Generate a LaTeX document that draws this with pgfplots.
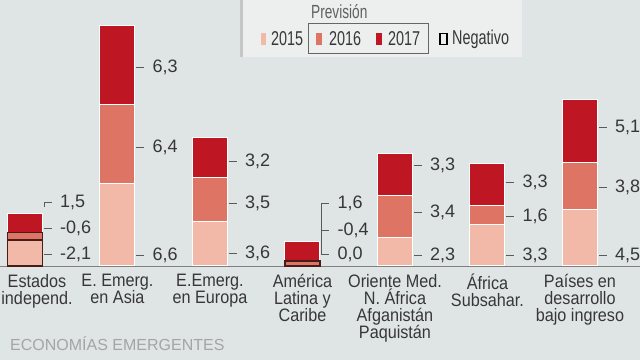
\documentclass[border=0pt]{standalone}
\usepackage{pgfplots}
\pgfplotsset{compat=1.18}
\usepackage{pgfplotstable}
\usepackage{fontspec}
\setmainfont{Liberation Sans}
\newfontfamily\catfont{Liberation Sans}[FakeStretch=0.9]
\newfontfamily\condfont{Liberation Sans}[FakeStretch=0.72]
\definecolor{bg}{RGB}{223,228,229}
\definecolor{panel}{RGB}{237,238,238}
\definecolor{cA}{RGB}{242,184,168}
\definecolor{cB}{RGB}{222,117,100}
\definecolor{cC}{RGB}{190,22,34}
\definecolor{negc}{RGB}{70,30,25}
\definecolor{txt}{RGB}{55,55,55}
\definecolor{tickc}{RGB}{90,90,90}
\definecolor{foot}{RGB}{165,165,165}

\pgfplotstableread{
x y15 y16 y17
0 2.1 0.6 1.5
1 6.6 6.4 6.3
2 3.6 3.5 3.2
3 0.0 0.4 1.6
4 2.3 3.4 3.3
5 3.3 1.6 3.3
6 4.5 3.8 5.1
}\datatable

\newcommand{\vl}[3]{%
  \draw[tickc, line width=0.6bp] ([xshift=19bp]axis cs:#1,#2) -- ([xshift=27bp]axis cs:#1,#2);
  \node[anchor=west, inner sep=0pt, text=txt, font=\fontsize{18bp}{18bp}\selectfont] at ([xshift=35bp]axis cs:#1,#2) {#3};
}

\begin{document}
\begin{tikzpicture}
\fill[bg] (0,0) rectangle (640bp,360bp);

\begin{axis}[
  at={(0bp,94bp)}, anchor=south west,
  scale only axis, width=640bp, height=266bp,
  xmin=-0.27, xmax=6.649, ymin=0, ymax=21.37,
  ybar stacked, bar width=35bp,
  axis x line*=bottom, axis y line=none,
  x axis line style={-, draw=gray, line width=0.6bp},
  xtick={1,...,6}, ytick=\empty,
  major tick length=0pt,
  xticklabels={{E. Emerg.\\en Asia},{E.Emerg.\\en Europa},{América\\Latina y\\Caribe},{Oriente Med.\\N. África\\Afganistán\\Paquistán},{África\\Subsahar.},{Países en\\desarrollo\\bajo ingreso}},
  extra x ticks={0},
  extra x tick labels={{Estados\\independ.}},
  extra x tick style={xticklabel style={xshift=12bp}},
  xticklabel style={align=center, inner sep=0pt, anchor=north, yshift=-8bp, text=txt, font=\catfont\fontsize{18bp}{17bp}\selectfont},
  clip=false,
]
\addplot[fill=cA, draw=white, line width=1bp] table[x=x, y=y15] {\datatable};
\addplot[fill=cB, draw=white, line width=1bp] table[x=x, y=y16] {\datatable};
\addplot[fill=cC, draw=white, line width=1bp] table[x=x, y=y17] {\datatable};

\vl{0}{5.14}{1,5}
\vl{0}{3.05}{-0,6}
\vl{0}{0.96}{-2,1}
\vl{1}{15.98}{6,3}
\vl{1}{9.56}{6,4}
\vl{1}{0.88}{6,6}
\vl{2}{8.43}{3,2}
\vl{2}{5.06}{3,5}
\vl{2}{1.04}{3,6}
\vl{3}{5.06}{1,6}
\vl{3}{2.89}{-0,4}
\vl{3}{0.96}{0,0}
\vl{4}{8.11}{3,3}
\vl{4}{4.34}{3,4}
\vl{4}{0.88}{2,3}
\vl{5}{6.75}{3,3}
\vl{5}{4.02}{1,6}
\vl{5}{0.88}{3,3}
\vl{6}{11.16}{5,1}
\vl{6}{6.35}{3,8}
\vl{6}{0.88}{4,5}
\draw[tickc, line width=0.6bp] ([xshift=19bp]axis cs:3,5.06) -- ([xshift=19bp]axis cs:3,0.96);
\draw[tickc, line width=0.6bp] ([xshift=19bp]axis cs:0,5.14) -- ([xshift=19bp]axis cs:0,4.7);
\end{axis}

\begin{axis}[
  at={(0bp,94bp)}, anchor=south west,
  scale only axis, width=640bp, height=266bp,
  xmin=-0.27, xmax=6.649, ymin=0, ymax=21.37,
  ybar stacked, bar width=35bp,
  hide axis, clip=false,
]
\addplot[fill=none, draw=negc, line width=1.5bp] coordinates {(0,2.1) (3,0)};
\addplot[fill=none, draw=negc, line width=1.5bp] coordinates {(0,0.6) (3,0.4)};
\end{axis}

% legend panel
\fill[gray!45] (240bp,303bp) rectangle (244bp,360bp);
\fill[panel] (243bp,303bp) rectangle (522bp,360bp);
\node[anchor=west, inner sep=0pt, text=gray!75!black, font=\condfont\fontsize{19bp}{19bp}\selectfont] at (311bp,348bp) {Previsión};
\draw[gray!80!black, line width=0.6bp] (308bp,307bp) rectangle (428bp,337bp);
\fill[cA] (261bp,315bp) rectangle (266bp,327bp);
\fill[cB] (316bp,315bp) rectangle (322bp,327bp);
\fill[cC] (376bp,315bp) rectangle (382bp,327bp);
\draw[black, line width=1.3bp] (440bp,315.5bp) rectangle (447bp,326.5bp);
\begin{scope}[every node/.style={anchor=west, inner sep=0pt, text=txt, font=\condfont\fontsize{20bp}{20bp}\selectfont}]
\node at (271bp,321bp) {2015};
\node at (329bp,321bp) {2016};
\node at (388bp,321bp) {2017};
\node at (452bp,321bp) {Negativo};
\end{scope}
\node[anchor=west, inner sep=0pt, text=foot, font=\fontsize{16bp}{16bp}\selectfont] at (10bp,16bp) {ECONOMÍAS EMERGENTES};

\pgfresetboundingbox
\path[use as bounding box] (0,0) rectangle (640bp,360bp);
\end{tikzpicture}
\end{document}
